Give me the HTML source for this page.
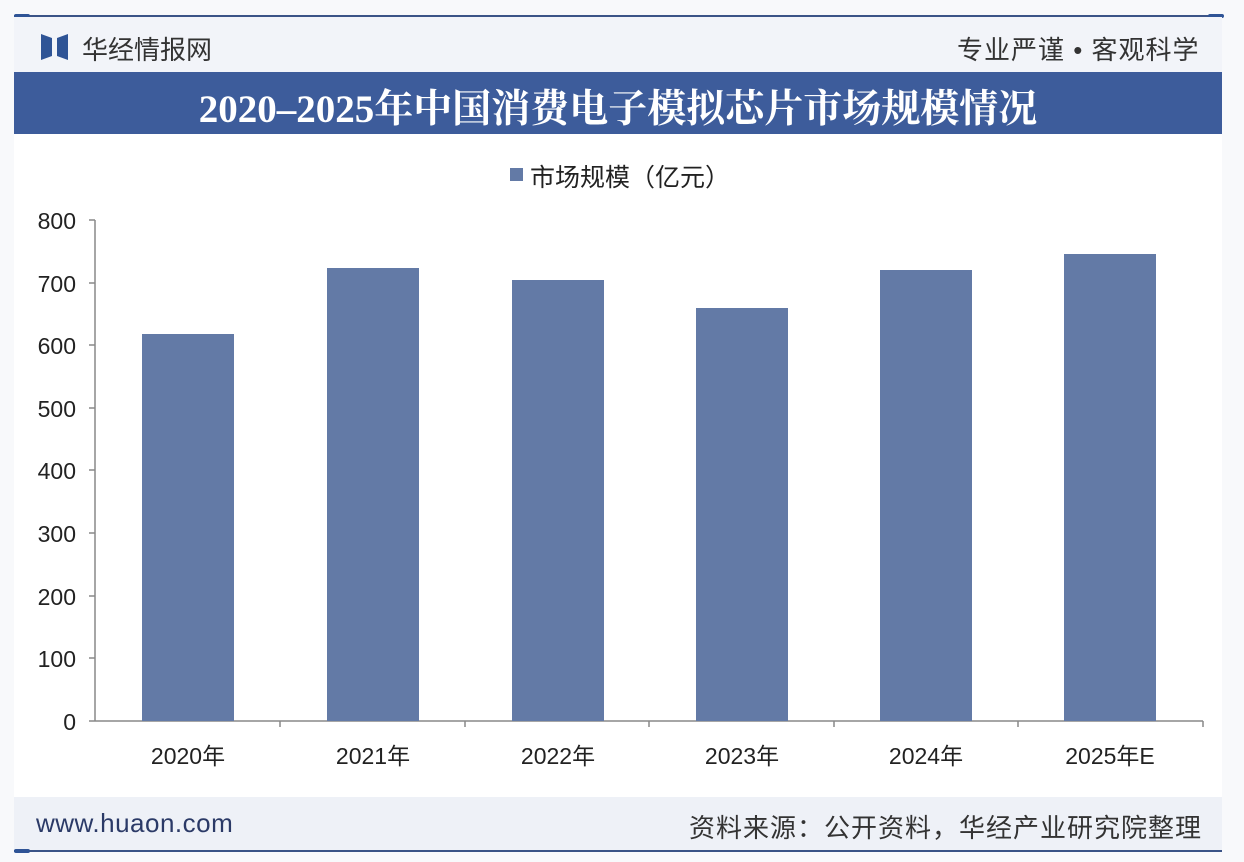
<!DOCTYPE html>
<html><head><meta charset="utf-8"><style>
body{margin:0;width:1244px;height:862px;background:#f8f9fb;position:relative;overflow:hidden;font-family:"Liberation Sans","Noto Sans CJK SC",sans-serif}
.a{position:absolute;white-space:nowrap}
</style></head><body>
<div class="a" style="left:14px;top:15px;width:1208px;height:2px;background:#3b5487"></div>
<div class="a" style="left:14px;top:14px;width:16px;height:4px;border-radius:2px;background:#2f5496"></div>
<div class="a" style="left:1208px;top:14px;width:16px;height:4px;border-radius:2px;background:#2f5496"></div>
<div class="a" style="left:14px;top:17px;width:1208px;height:56px;background:#f2f4f9"></div>
<svg class="a" style="left:41px;top:34px" width="27" height="26"><polygon points="0,0 11,4 11,22 0,26" fill="#2f5496"/><polygon points="27,0 16,4 16,22 27,26" fill="#2f5496"/></svg>
<div class="a" style="left:82px;top:30px;font-size:26px;color:#333">华经情报网</div>
<div class="a" style="left:957px;top:30px;font-size:26px;color:#333;letter-spacing:1px">专业严谨 • 客观科学</div>
<div class="a" style="left:14px;top:72px;width:1208px;height:62px;background:#3d5c9b"></div>
<div class="a" style="left:14px;top:78px;width:1208px;text-align:center;font:bold 39px 'Liberation Serif','Noto Serif CJK SC',serif;color:#fff">2020–2025年中国消费电子模拟芯片市场规模情况</div>
<div class="a" style="left:14px;top:134px;width:1208px;height:663px;background:#fff"></div>
<div class="a" style="left:510px;top:168px;width:13px;height:13px;background:#637aa6"></div>
<div class="a" style="left:530px;top:158px;font-size:25px;color:#222">市场规模（亿元）</div>
<svg class="a" style="left:0;top:0" width="1244" height="862" font-family="Liberation Sans" font-size="23" fill="#222">
<g stroke="#888" stroke-width="1.5">
<line x1="95" y1="220" x2="95" y2="721"/><line x1="95" y1="721" x2="1203" y2="721"/>
<line x1="89" y1="220" x2="95" y2="220"/><line x1="89" y1="283" x2="95" y2="283"/><line x1="89" y1="345" x2="95" y2="345"/><line x1="89" y1="408" x2="95" y2="408"/><line x1="89" y1="470" x2="95" y2="470"/><line x1="89" y1="533" x2="95" y2="533"/><line x1="89" y1="596" x2="95" y2="596"/><line x1="89" y1="658" x2="95" y2="658"/><line x1="89" y1="721" x2="95" y2="721"/>
<line x1="280" y1="721" x2="280" y2="727"/><line x1="465" y1="721" x2="465" y2="727"/><line x1="649" y1="721" x2="649" y2="727"/><line x1="834" y1="721" x2="834" y2="727"/><line x1="1018" y1="721" x2="1018" y2="727"/><line x1="1203" y1="721" x2="1203" y2="727"/>
</g>
<g text-anchor="end"><text x="76" y="229">800</text><text x="76" y="292">700</text><text x="76" y="354">600</text><text x="76" y="417">500</text><text x="76" y="479">400</text><text x="76" y="542">300</text><text x="76" y="605">200</text><text x="76" y="667">100</text><text x="76" y="730">0</text></g>
<g fill="#637aa6"><rect x="142" y="334" width="92" height="387"/><rect x="327" y="268" width="92" height="453"/><rect x="512" y="280" width="92" height="441"/><rect x="696" y="308" width="92" height="413"/><rect x="880" y="270" width="92" height="451"/><rect x="1064" y="254" width="92" height="467"/></g>
<g text-anchor="middle" font-family="Liberation Sans,Noto Sans CJK SC"><text x="188" y="764">2020年</text><text x="373" y="764">2021年</text><text x="558" y="764">2022年</text><text x="742" y="764">2023年</text><text x="926" y="764">2024年</text><text x="1110" y="764">2025年E</text></g>
</svg>
<div class="a" style="left:14px;top:797px;width:1208px;height:53px;background:#eef1f7"></div>
<div class="a" style="left:36px;top:808px;font-size:26px;color:#2b3a67;letter-spacing:0.5px">www.huaon.com</div>
<div class="a" style="right:42px;top:808px;font-size:26px;color:#333;letter-spacing:1px">资料来源：公开资料，华经产业研究院整理</div>
<div class="a" style="left:14px;top:850px;width:1208px;height:2px;background:#3b5487"></div>
<div class="a" style="left:14px;top:849px;width:16px;height:4px;border-radius:2px;background:#2f5496"></div>
</body></html>
